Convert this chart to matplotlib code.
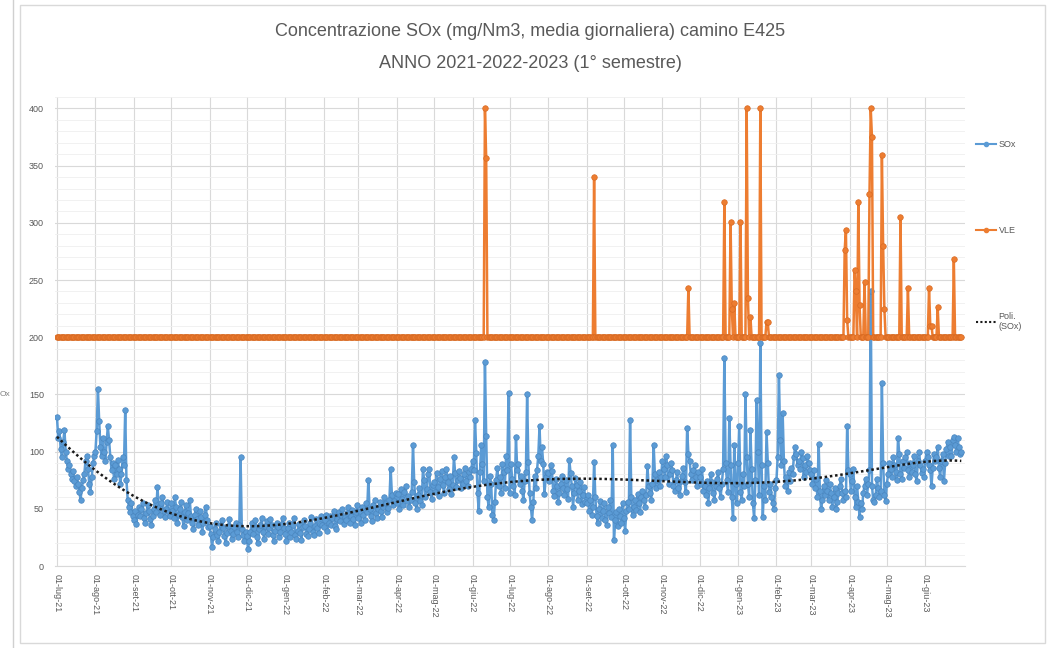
import numpy as np
import pandas as pd
import matplotlib
matplotlib.use("Agg")
import matplotlib.pyplot as plt
from matplotlib.ticker import MultipleLocator
from matplotlib.patches import Rectangle
from matplotlib.lines import Line2D

# daily SOx values (mg/Nm3), one list per month
month_starts = ['2021-07-01', '2021-08-01', '2021-09-01', '2021-10-01', '2021-11-01', '2021-12-01',
                '2022-01-01', '2022-02-01', '2022-03-01', '2022-04-01', '2022-05-01', '2022-06-01',
                '2022-07-01', '2022-08-01', '2022-09-01', '2022-10-01', '2022-11-01', '2022-12-01',
                '2023-01-01', '2023-02-01', '2023-03-01', '2023-04-01', '2023-05-01', '2023-06-01']

sox_jul21 = [130, 112, 118, 102, 95, 108, 119, 100, 92, 85, 88, 80, 76, 83, 74, 70, 78, 72, 65, 58, 68, 75, 80, 92, 96, 85, 72, 65, 78, 90, 96]
sox_aug21 = [100, 118, 155, 127, 104, 96, 112, 100, 92, 108, 122, 110, 95, 84, 90, 76, 88, 80, 93, 85, 72, 80, 95, 88, 136, 75, 58, 52, 47, 55, 44]
sox_sep21 = [40, 48, 37, 45, 52, 44, 50, 55, 42, 38, 46, 53, 48, 41, 36, 44, 50, 58, 47, 69, 52, 45, 55, 60, 48, 43, 50, 56, 47, 44]
sox_oct21 = [55, 48, 42, 60, 52, 38, 45, 50, 56, 43, 35, 47, 53, 40, 46, 58, 44, 38, 32, 45, 50, 41, 36, 48, 43, 30, 38, 45, 52, 40, 34]
sox_nov21 = [35, 28, 17, 25, 32, 38, 27, 22, 30, 36, 40, 33, 26, 20, 29, 35, 41, 31, 24, 28, 34, 38, 30, 25, 36, 95, 32, 27, 22, 30]
sox_dec21 = [26, 15, 22, 30, 38, 28, 33, 40, 25, 20, 32, 36, 42, 30, 24, 35, 39, 28, 33, 41, 36, 27, 22, 31, 38, 34, 25, 30, 37, 42, 33]
sox_jan22 = [28, 22, 33, 38, 25, 30, 36, 42, 27, 24, 31, 37, 29, 23, 34, 40, 35, 28, 26, 32, 38, 43, 30, 27, 35, 41, 33, 29, 37, 44, 36]
sox_feb22 = [34, 40, 45, 31, 38, 44, 36, 42, 48, 35, 32, 41, 47, 39, 45, 50, 37, 43, 40, 46, 52, 38, 44, 49, 41, 36, 47, 53]
sox_mar22 = [42, 48, 38, 52, 45, 40, 55, 47, 75, 50, 44, 39, 53, 58, 46, 42, 50, 56, 48, 43, 52, 60, 55, 47, 51, 58, 85, 62, 53, 57, 64]
sox_apr22 = [55, 63, 50, 67, 59, 53, 65, 70, 57, 61, 52, 58, 65, 106, 73, 55, 50, 62, 68, 57, 53, 85, 75, 60, 67, 80, 85, 65, 59, 71]
sox_may22 = [73, 65, 81, 69, 61, 76, 83, 71, 64, 78, 85, 73, 67, 79, 63, 71, 95, 81, 69, 75, 83, 77, 68, 72, 80, 86, 74, 70, 82, 78, 85]
sox_jun22 = [92, 84, 128, 99, 64, 48, 82, 106, 89, 74, 178, 114, 60, 52, 79, 72, 45, 40, 56, 75, 86, 70, 78, 64, 89, 82, 68, 96, 84, 151]
sox_jul22 = [64, 89, 76, 70, 62, 113, 84, 89, 72, 79, 66, 58, 74, 82, 150, 91, 64, 52, 40, 56, 79, 68, 84, 96, 122, 92, 104, 89, 63, 78, 82]
sox_aug22 = [81, 74, 88, 83, 66, 61, 76, 70, 56, 64, 72, 79, 68, 62, 75, 67, 59, 93, 81, 70, 52, 64, 77, 71, 58, 66, 73, 54, 62, 69, 56]
sox_sep22 = [55, 62, 48, 58, 45, 52, 91, 60, 44, 38, 50, 57, 42, 48, 55, 40, 36, 52, 46, 58, 43, 106, 23, 40, 47, 35, 50, 44, 38, 55]
sox_oct22 = [42, 31, 48, 56, 50, 128, 60, 45, 52, 58, 49, 63, 55, 47, 60, 66, 58, 52, 62, 87, 70, 64, 58, 72, 106, 80, 68, 75, 82, 70, 78]
sox_nov22 = [92, 85, 78, 96, 88, 72, 80, 90, 84, 70, 66, 75, 82, 68, 62, 74, 79, 86, 73, 65, 121, 98, 92, 80, 75, 84, 88, 78, 70, 82]
sox_dec22 = [78, 72, 85, 66, 70, 62, 74, 55, 68, 80, 73, 64, 58, 70, 76, 82, 68, 60, 72, 85, 182, 90, 75, 65, 129, 88, 60, 42, 106, 72, 55]
sox_jan23 = [90, 122, 65, 58, 80, 70, 150, 95, 72, 60, 119, 85, 55, 42, 75, 145, 100, 62, 195, 88, 43, 70, 58, 117, 90, 65, 72, 60, 55, 50, 68]
sox_feb23 = [75, 95, 167, 110, 88, 134, 92, 70, 78, 66, 82, 74, 86, 80, 95, 104, 98, 88, 92, 85, 100, 94, 78, 88, 82, 96, 90, 84]
sox_mar23 = [80, 72, 84, 68, 76, 60, 107, 66, 50, 58, 70, 62, 75, 66, 58, 72, 64, 52, 60, 68, 50, 56, 64, 70, 76, 64, 58, 66, 60, 122, 84]
sox_apr23 = [80, 66, 74, 85, 60, 52, 70, 56, 43, 55, 50, 64, 70, 76, 62, 72, 84, 240, 70, 58, 56, 62, 76, 68, 60, 66, 160, 90, 62, 57]
sox_may23 = [72, 80, 90, 85, 78, 95, 88, 82, 75, 112, 98, 80, 76, 92, 86, 95, 100, 84, 78, 90, 82, 88, 96, 80, 74, 92, 100, 88, 81, 85, 78]
sox_jun23 = [92, 100, 95, 88, 84, 70, 86, 98, 92, 95, 104, 86, 78, 92, 98, 74, 90, 102, 108, 96, 104, 96, 110, 113, 106, 100, 112, 104, 98, 100]

sox_months = [sox_jul21, sox_aug21, sox_sep21, sox_oct21, sox_nov21, sox_dec21,
              sox_jan22, sox_feb22, sox_mar22, sox_apr22, sox_may22, sox_jun22,
              sox_jul22, sox_aug22, sox_sep22, sox_oct22, sox_nov22, sox_dec22,
              sox_jan23, sox_feb23, sox_mar23, sox_apr23, sox_may23, sox_jun23]

# VLE: limit value 200, with the days where it was raised
vle_base = 200
vle_dates = ['2022-06-11', '2022-06-12', '2022-09-07', '2022-11-22', '2022-12-21', '2022-12-26',
             '2022-12-27', '2022-12-29', '2023-01-03', '2023-01-08', '2023-01-09', '2023-01-11',
             '2023-01-19', '2023-01-24', '2023-01-25', '2023-03-28', '2023-03-29', '2023-03-30',
             '2023-04-05', '2023-04-06', '2023-04-08', '2023-04-09', '2023-04-13', '2023-04-17',
             '2023-04-18', '2023-04-19', '2023-04-27', '2023-04-28', '2023-04-29', '2023-05-12',
             '2023-05-18', '2023-06-04', '2023-06-05', '2023-06-06', '2023-06-11', '2023-06-24']
vle_vals = [400, 357, 340, 243, 318, 301, 225, 230, 301, 400, 234, 218,
            400, 213, 213, 276, 294, 215, 259, 240, 318, 228, 248, 325,
            400, 375, 359, 280, 225, 305, 243, 243, 210, 210, 226, 268]

month_names = ['gen', 'feb', 'mar', 'apr', 'mag', 'giu', 'lug', 'ago', 'set', 'ott', 'nov', 'dic']

# build the series
parts = []
for start, vals in zip(month_starts, sox_months):
    parts.append(pd.Series(vals, index=pd.date_range(start, periods=len(vals), freq='D'), dtype=float))
sox = pd.concat(parts)
vle = pd.Series(float(vle_base), index=sox.index)
vle.loc[pd.to_datetime(vle_dates)] = vle_vals

# polynomial trend (like the Excel trendline)
t = (sox.index - sox.index[0]).days.values.astype(float)
coef = np.polyfit(t / 100.0, sox.values, 6)
trend = np.polyval(coef, t / 100.0)

plt.rcParams['font.family'] = ['Liberation Sans', 'DejaVu Sans']
fig = plt.figure(figsize=(10.6, 6.48), dpi=100)
ax = fig.add_axes([55 / 1060, 82 / 648, 910 / 1060, 469 / 648])

blue = '#5B9BD5'
orange = '#ED7D31'
ax.plot(sox.index, sox.values, color=blue, lw=1.8, marker='o', ms=4,
        markeredgecolor='#4A86BF', markeredgewidth=0.5, label='SOx', zorder=3)
ax.plot(vle.index, vle.values, color=orange, lw=1.8, marker='o', ms=4,
        markeredgecolor='#D86A22', markeredgewidth=0.5, label='VLE', zorder=4)
ax.plot(sox.index, trend, color='#1a1a1a', lw=1.8, ls=(0, (1, 1.1)), label='Poli.\n(SOx)', zorder=5)

ax.set_ylim(0, 410)
ax.set_xlim(pd.Timestamp('2021-07-01') - pd.Timedelta(days=1.6), pd.Timestamp('2023-07-03'))
ax.yaxis.set_major_locator(MultipleLocator(50))
ax.yaxis.set_minor_locator(MultipleLocator(10))
ticks = pd.to_datetime(month_starts)
ax.set_xticks(ticks)
ax.set_xticklabels(['01-%s-%s' % (month_names[d.month - 1], str(d.year)[2:]) for d in ticks],
                   rotation=-90, ha='center', va='top', fontsize=6.5, color='#595959')
ax.tick_params(axis='y', labelsize=6.5, labelcolor='#595959', length=0, pad=8)
ax.tick_params(axis='x', length=0, pad=6)
ax.tick_params(which='minor', length=0)

ax.grid(True, which='major', color='#D9D9D9', lw=0.8)
ax.grid(True, which='minor', axis='y', color='#EFEFEF', lw=0.6)
ax.set_axisbelow(True)
for s in ['top', 'right', 'left']:
    ax.spines[s].set_visible(False)
ax.spines['bottom'].set_color('#D9D9D9')

fig.text(0.5, 1 - 32 / 648, 'Concentrazione SOx (mg/Nm3, media giornaliera) camino E425',
         ha='center', va='center', fontsize=13, color='#595959')
fig.text(0.5, 1 - 63 / 648, 'ANNO 2021-2022-2023 (1° semestre)',
         ha='center', va='center', fontsize=13, color='#595959')

# legend
handles = [Line2D([], [], color=blue, lw=1.5, marker='o', ms=3),
           Line2D([], [], color=orange, lw=1.5, marker='o', ms=3),
           Line2D([], [], color='#1a1a1a', lw=1.5, ls=(0, (1, 1.1)))]
fig.legend(handles, ['SOx', 'VLE', 'Poli.\n(SOx)'], loc='upper left',
           bbox_to_anchor=(968 / 1060, 1 - 132 / 648), frameon=False, fontsize=6.5,
           labelcolor='#595959', handlelength=2.2, handletextpad=0.3, labelspacing=8.5)

# chart area border and cropped neighbour
fig.add_artist(Rectangle((20 / 1060, 5 / 648), 1025 / 1060, 638 / 648, transform=fig.transFigure,
                         fill=False, edgecolor='#D9D9D9', lw=1))
fig.add_artist(Line2D([13 / 1060, 13 / 1060], [0, 1], transform=fig.transFigure, color='#D0D0D0', lw=1))
fig.text(0 / 1060, 1 - 395 / 648, 'Ox', fontsize=6, color='#808080', va='center')

fig.savefig('out.png', dpi=100)
